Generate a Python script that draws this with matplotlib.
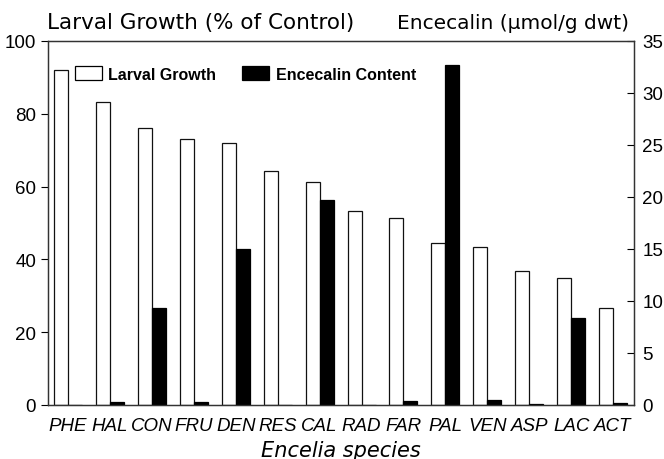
import matplotlib
matplotlib.use("Agg")
import matplotlib.pyplot as plt
import numpy as np
from matplotlib.patches import Patch

species = ["PHE", "HAL", "CON", "FRU", "DEN", "RES", "CAL", "RAD", "FAR",
           "PAL", "VEN", "ASP", "LAC", "ACT"]
growth = [92.0, 83.2, 76.0, 73.1, 72.1, 64.3, 61.4, 53.4, 51.5, 44.6, 43.5, 36.8, 34.8, 26.7]
encecalin = [0.0, 0.25, 9.3, 0.3, 15.0, 0.0, 19.7, 0.0, 0.4, 32.7, 0.5, 0.1, 8.4, 0.15]
left_ticks = [0, 20, 40, 60, 80, 100]
right_ticks = [0, 5, 10, 15, 20, 25, 30, 35]

plt.rcParams['font.family'] = ['Liberation Sans', 'DejaVu Sans']

W, H = 664, 460
fig = plt.figure(figsize=(W/100, H/100), dpi=100)
ax = fig.add_axes([48/W, 1-406/H, (634-48)/W, (406-42)/H])
ax2 = ax.twinx()

x = np.arange(len(species))
w = 0.334
ax.bar(x - w/2, growth, w, color="white", edgecolor="#111111", linewidth=0.9, zorder=2)
ax2.bar(x + w/2, encecalin, w, color="black", edgecolor="black", linewidth=0.9, zorder=2)

ax.set_xlim(-0.48, 13.5)
ax.set_ylim(0, 100)
ax2.set_ylim(0, 35)
ax.set_yticks(left_ticks)
ax2.set_yticks(right_ticks)
ax.set_xticks(x)
ax.set_xticklabels(species, fontsize=13.5, style="italic")
ax.tick_params(axis="x", length=0, pad=9)
ax.tick_params(axis="y", direction="out", length=5, labelsize=13.5, width=0.8)
ax2.tick_params(axis="y", direction="in", length=5, labelsize=13.5, width=0.8, pad=6)
for a in (ax, ax2):
    for s in a.spines.values():
        s.set_linewidth(0.9)
        s.set_color("#333333")

fig.text(341/W, 1-457/H, "Encelia species", fontsize=15, style="italic",
         family=["DejaVu Sans"], ha="center", va="baseline")

fig.text(47/W, 1-29/H, "Larval Growth (% of Control)", fontsize=15.5,
         family=["DejaVu Sans"], ha="left", va="baseline")
fig.text(629/W, 1-29/H, "Encecalin (µmol/g dwt)", fontsize=14.5,
         family=["DejaVu Sans"], ha="right", va="baseline")

handles = [Patch(facecolor="white", edgecolor="black", linewidth=0.9),
           Patch(facecolor="black", edgecolor="black", linewidth=0.9)]
leg = ax2.legend(handles, ["Larval Growth", "Encecalin Content"], ncol=2, frameon=False,
                 loc="center left", bbox_to_anchor=(0.046, 0.909), fontsize=11.5,
                 borderpad=0, borderaxespad=0,
                 handlelength=1.7, handleheight=0.95, columnspacing=1.6, handletextpad=0.4)
for t in leg.get_texts():
    t.set_fontweight("bold")

fig.savefig("out.png", dpi=100)
